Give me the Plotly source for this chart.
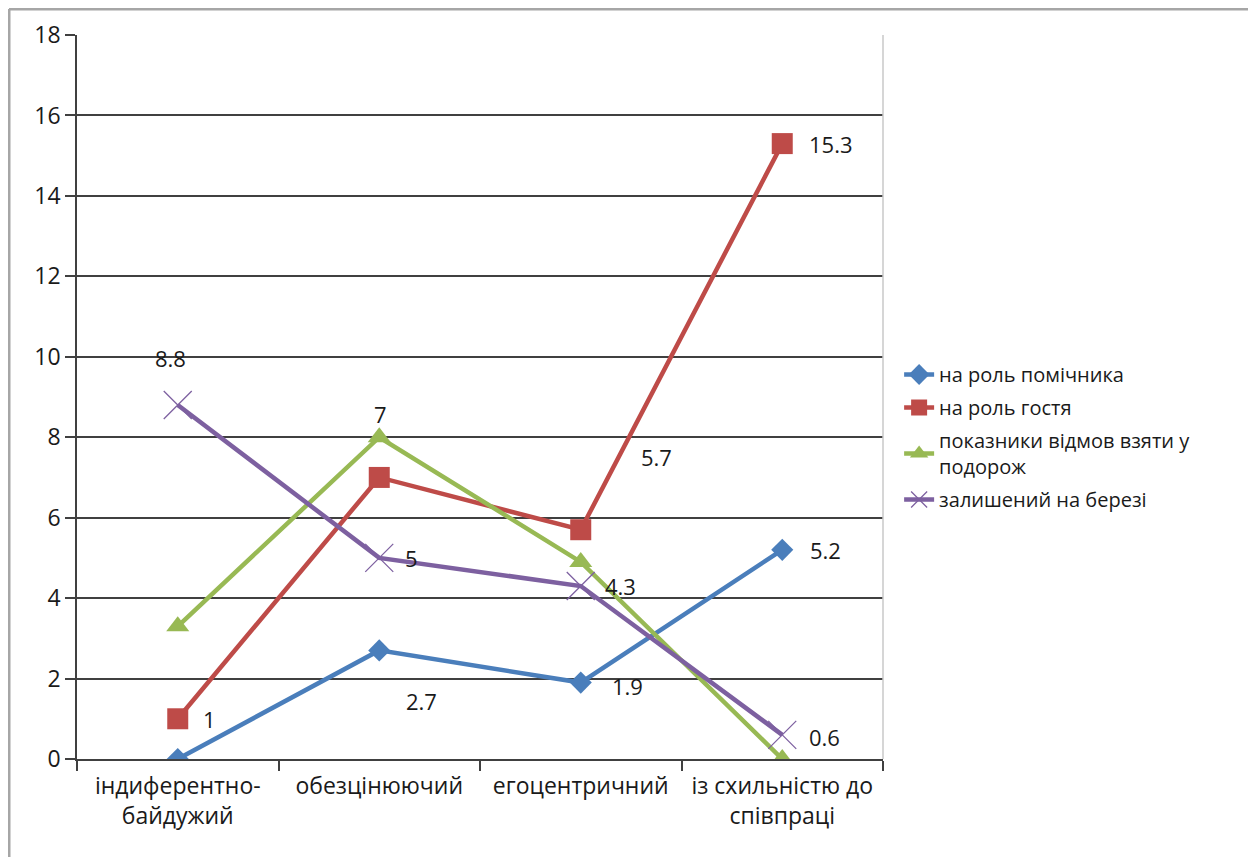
import plotly.graph_objects as go

categories = ["індиферентно-<br>байдужий", "обезцінюючий", "егоцентричний", "із схильністю до<br>співпраці"]
helper = [0, 2.7, 1.9, 5.2]
guest = [1, 7, 5.7, 15.3]
refusal = [3.3, 8, 4.9, 0]
shore = [8.8, 5, 4.3, 0.6]
series_names = ["на роль помічника", "на роль гостя", "показники відмов взяти у<br>подорож", "залишений на березі"]
y_ticks = [0, 2, 4, 6, 8, 10, 12, 14, 16, 18]

# data labels: (series values, category index, label text)
label_series = [shore, guest, guest, guest, guest, shore, shore, helper, helper, helper, shore]
label_idx = [0, 1, 2, 3, 0, 1, 2, 1, 2, 3, 3]
label_text = ["8.8", "7", "5.7", "15.3", "1", "5", "4.3", "2.7", "1.9", "5.2", "0.6"]
# pixel offsets (style)
label_shift = [(-7, 47), (1, 63), (76, 73), (49, 0), (32, 0), (32, 0), (40, 0), (42, -51), (47, -3), (43, 0), (42, -2)]

colors = ["#4A7EBB", "#BE4B48", "#98B954", "#7D60A0"]
symbols = ["diamond", "square", "triangle-up", "x-thin"]
sizes = [17, 21, 20, 28]

fig = go.Figure()
for k, (vals, name, c, s, sz) in enumerate(zip([helper, guest, refusal, shore], series_names, colors, symbols, sizes)):
    marker = dict(symbol=s, size=sz, color=c)
    if s == "x-thin":
        marker["line"] = dict(color=c, width=1.3)
    fig.add_trace(go.Scatter(x=categories, y=vals, name=name, mode="lines+markers", legendgroup=f"g{k}",
                             line=dict(color=c, width=4.5), marker=marker))

for vals, i, t, (dx, dy) in zip(label_series, label_idx, label_text, label_shift):
    fig.add_annotation(x=categories[i], y=vals[i], text=t, showarrow=False,
                       xshift=dx, yshift=dy, font=dict(size=22, color="#1a1a1a", family="Open Sans"))

# page is rendered with an 8px body offset
L, R, T, B = 69, 373, 27, 98
W, H = 1248, 849
pw, ph = W - L - R, H - T - B
bx = (1 - L) / pw
by = 1 + (T - 1) / ph
fig.add_shape(type="line", xref="paper", yref="paper", x0=bx, x1=(W - L) / pw + 0.01, y0=by, y1=by,
              line=dict(color="#a6a6a6", width=3))
fig.add_shape(type="line", xref="paper", yref="paper", x0=bx, x1=bx, y0=by, y1=-B / ph - 0.01,
              line=dict(color="#a6a6a6", width=3))
fig.add_shape(type="line", xref="paper", yref="paper", x0=1, x1=1, y0=0, y1=1,
              line=dict(color="#c8c8c8", width=1.5))

fig.update_layout(
    width=W, height=H,
    margin=dict(l=L, r=R, t=T, b=B, autoexpand=False),
    plot_bgcolor="white", paper_bgcolor="white",
    font=dict(family="Open Sans", size=22, color="#1a1a1a"),
    showlegend=True,
    legend=dict(x=1.02, y=0.558, xanchor="left", yanchor="top", font=dict(size=20, family="Open Sans"),
                tracegroupgap=4, itemwidth=30, bgcolor="rgba(0,0,0,0)"),
    xaxis=dict(type="category", range=[-0.5, 3.5], tickson="boundaries", ticks="outside", ticklen=10,
               tickwidth=1.5, tickcolor="#404040", showline=True, linecolor="#404040", linewidth=1.5,
               showgrid=False, ticklabelstandoff=6, tickfont=dict(size=23, family="Open Sans")),
    yaxis=dict(range=[0, 18], tickvals=y_ticks, ticks="outside", ticklen=10, tickwidth=1.5,
               tickcolor="#404040", showline=True, linecolor="#404040", linewidth=1.5,
               showgrid=True, gridcolor="#404040", gridwidth=1.5, zeroline=False,
               tickfont=dict(size=23, family="Open Sans")),
)

fig.write_html("out.html")
